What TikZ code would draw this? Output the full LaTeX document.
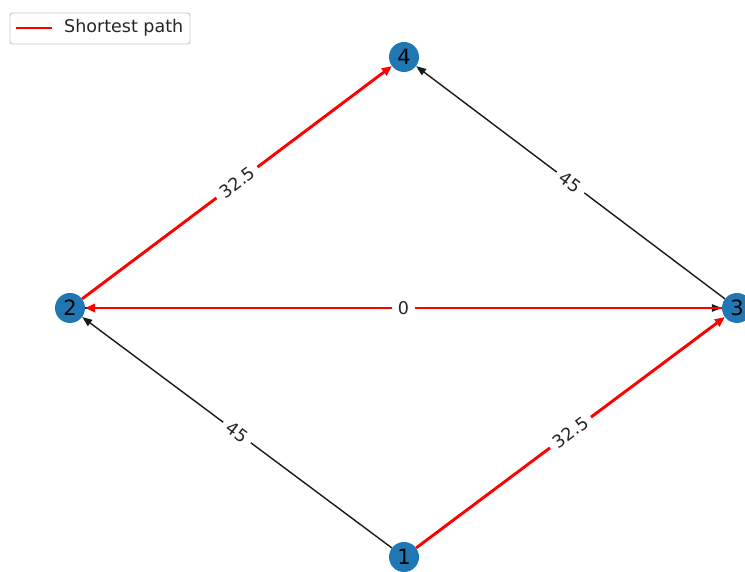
\documentclass[tikz,border=0pt]{standalone}
\usepackage{fontspec}
\setmainfont{DejaVu Sans}
\usetikzlibrary{arrows.meta}
\definecolor{nxblue}{HTML}{1F77B4}
\begin{document}
\begin{tikzpicture}[x=1pt,y=1pt,
  vtx/.style={circle, fill=nxblue, minimum size=30pt, inner sep=0pt, font=\fontsize{21}{21}\selectfont},
  plainedge/.style={draw=black!90, line width=1.4pt, -{Triangle[length=10pt,width=7.5pt]}},
  spedge/.style={draw=red, line width=2.9pt, -{Triangle[length=10pt,width=8.5pt]}},
  elabel/.style={fill=white, inner xsep=6pt, inner ysep=3pt, font=\fontsize{17.5}{17.5}\selectfont, sloped, text=black!85}
]
\useasboundingbox (0,0) rectangle (745,572);
\clip (0,0) rectangle (745,572);
\node[vtx] (n4) at (404,515) {4};
\node[vtx] (n2) at (70,264) {2};
\node[vtx] (n3) at (737,264) {3};
\node[vtx] (n1) at (404,15) {1};
% plain edges
\draw[plainedge] (n1) -- node[elabel] {45} (n2);
\draw[plainedge] (n3) -- node[elabel] {45} (n4);
\draw[plainedge] (n2) -- (n3);
% shortest path
\draw[spedge] (n1) -- node[elabel] {32.5} (n3);
\draw[spedge] (n3) -- node[elabel] {0} (n2);
\draw[spedge] (n2) -- node[elabel] {32.5} (n4);
% legend
\node[draw=black!22, fill=white, rounded corners=2.5pt, line width=0.9pt, minimum width=180pt, minimum height=31pt, inner sep=0pt] (leg) at (100,543.5) {};
\coordinate (la) at (16,544);
\coordinate (lb) at (52,544);
\draw[red, line width=2.6pt] (la) -- (lb);
\node[anchor=west, inner sep=0pt, font=\fontsize{17.5}{17.5}\selectfont, text=black!85] (legtext) at (64,544) {Shortest path};
\end{tikzpicture}
\end{document}
